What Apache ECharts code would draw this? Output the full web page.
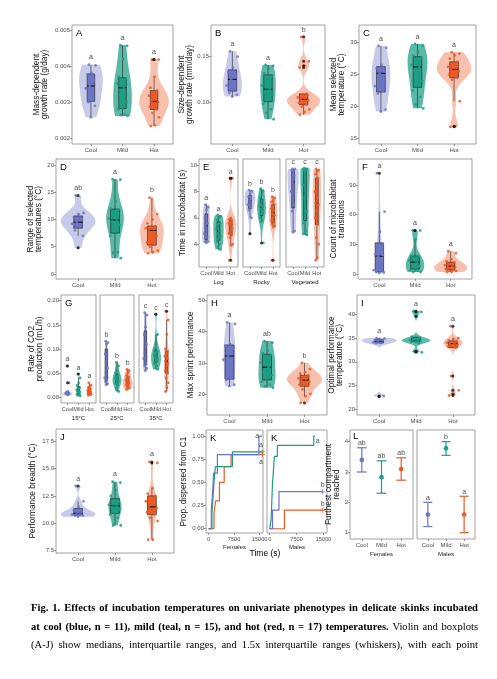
<!DOCTYPE html>
<html><head><meta charset="utf-8">
<script src="https://cdn.jsdelivr.net/npm/echarts@6/dist/echarts.min.js"></script>
<style>html,body{margin:0;padding:0;background:#fff}#c{width:497px;height:679px}</style>
</head><body><div id="c"></div>
<script>
// ---------- categories & data ----------
const CATS = ['Cool', 'Mild', 'Hot'];
// A: mass-dependent growth rate (g/day)
const aCool = [0.00404,0.00402,0.00381,0.00376,0.00362,0.00345,0.00338,0.00304,0.00300,0.00290,0.00258];
const aMild = [0.00458,0.00456,0.00420,0.00370,0.00366,0.00362,0.00352,0.00340,0.00320,0.00300,0.00285,0.00280,0.00266,0.00264,0.00262];
const aHot  = [0.00418,0.00418,0.00370,0.00340,0.00332,0.00325,0.00318,0.00310,0.00302,0.00300,0.00295,0.00288,0.00280,0.00270,0.00258,0.00236,0.00234];
// B: size-dependent growth rate (mm/day)
const bCool = [0.156,0.150,0.138,0.133,0.128,0.125,0.118,0.114,0.110,0.108,0.106];
const bMild = [0.141,0.140,0.137,0.132,0.128,0.124,0.118,0.114,0.112,0.108,0.103,0.098,0.092,0.088,0.081];
const bHot  = [0.172,0.145,0.140,0.138,0.109,0.107,0.105,0.104,0.103,0.102,0.101,0.099,0.097,0.095,0.092,0.089,0.086];
// C: mean selected temperature
const cCool = [29.5,29.2,26.5,26.0,25.5,25.2,23.2,22.5,22.0,19.5,19.2];
const cMild = [29.8,29.5,28.5,28.0,27.6,27.0,26.5,26.2,25.5,24.0,23.5,22.5,21.5,20.3,19.7];
const cHot  = [28.5,28.3,28.0,27.5,27.0,26.5,26.2,26.0,25.8,25.5,25.3,25.0,24.5,24.2,20.8,16.9,16.8];
// D: range of selected temperatures
const dCool = [14.4,11.2,11.0,10.3,10.0,9.5,9.2,8.8,8.0,7.0,4.8];
const dMild = [17.4,17.3,13.3,12.0,11.8,11.0,10.2,9.9,9.7,9.0,8.0,7.0,4.0,3.9,2.9];
const dHot  = [14.0,11.0,10.0,9.3,8.8,8.5,8.4,8.2,8.0,7.0,6.5,5.8,5.3,5.0,4.3,4.0,3.8];
// E: time in microhabitat (s), facets Log / Rocky / Vegetated
const eLogCool = [7.0,6.8,6.6,6.0,5.6,5.4,4.8,4.5,4.2,4.2,4.1];
const eLogMild = [6.2,6.1,6.0,5.8,5.6,5.5,5.2,5.0,4.8,4.6,4.4,4.2,4.0,3.8,3.6];
const eLogHot  = [9.0,9.0,6.0,5.9,5.85,5.7,5.6,5.5,5.5,5.2,5.0,4.8,4.7,4.5,4.0,3.9,2.8];
const eRockyCool = [8.1,8.0,7.8,7.6,7.5,7.3,7.0,6.8,6.6,6.0,4.8];
const eRockyMild = [8.2,8.0,7.8,7.5,7.3,7.0,6.9,6.8,6.6,6.5,6.3,6.0,5.8,5.7,4.1];
const eRockyHot  = [7.6,7.5,7.3,7.2,7.0,6.8,6.7,6.5,6.4,6.2,6.0,5.8,5.6,5.5,5.4,5.3,2.8];
const eVegCool = [9.7,9.7,9.6,9.6,9.2,8.7,8.0,7.0,6.5,5.0,4.9];
const eVegMild = [9.75,9.7,9.7,9.65,9.6,9.5,8.5,7.9,7.5,6.5,6.0,5.6,5.0,4.8,4.7];
const eVegHot  = [9.7,9.6,9.5,9.3,9.0,8.5,8.0,7.5,7.1,7.0,6.5,6.0,5.5,4.5,4.0,3.0,2.8];
// F: count of microhabitat transitions
const fCool = [102,63,43,20,19,18,4,3,2,1.5,1];
const fMild = [44,44,35,18.5,18,16,14,12,10,8,6,4,3,2,2];
const fHot  = [23,21,15,13,12,10,9,8,8,7,6,5,4,3,3,2,2];
// G: rate of CO2 production (mL/h), facets 15/25/35 °C
const g15Cool = [0.065,0.030,0.012,0.010,0.009,0.008,0.008,0.007,0.007,0.006,0.005];
const g15Mild = [0.048,0.040,0.030,0.025,0.020,0.018,0.015,0.013,0.012,0.010,0.008,0.006,0.005,0.004,0.003];
const g15Hot  = [0.030,0.025,0.022,0.020,0.018,0.016,0.014,0.012,0.011,0.010,0.009,0.008,0.008,0.007,0.006,0.005,0.004];
const g25Cool = [0.116,0.113,0.110,0.090,0.060,0.042,0.040,0.036,0.032,0.028,0.026];
const g25Mild = [0.072,0.065,0.055,0.050,0.045,0.042,0.040,0.038,0.036,0.034,0.030,0.028,0.025,0.020,0.012];
const g25Hot  = [0.058,0.055,0.050,0.045,0.042,0.040,0.036,0.034,0.032,0.030,0.028,0.026,0.024,0.022,0.020,0.018,0.016];
const g35Cool = [0.175,0.170,0.145,0.130,0.110,0.093,0.080,0.070,0.065,0.060,0.055];
const g35Mild = [0.172,0.130,0.110,0.100,0.095,0.092,0.088,0.085,0.082,0.078,0.075,0.070,0.065,0.060,0.058];
const g35Hot  = [0.178,0.160,0.130,0.100,0.095,0.090,0.085,0.080,0.075,0.070,0.065,0.055,0.050,0.040,0.030,0.020,0.012];
// H: max sprint performance
const hCool = [43,42.5,36,35.5,34.5,32.2,31,25,24.5,23,22.5];
const hMild = [37,36.5,34,33,32.5,31,30,28.6,27,26,25,24,23,22.5,22];
const hHot  = [30,28,27,26.5,26,25.5,25,24.8,24.5,24,23.5,23,22.5,21.5,20,19.3,17.1];
// I: optimal performance temperature
const iCool = [35.0,34.9,34.8,34.6,34.5,34.3,34.1,34.0,33.9,22.8,22.7];
const iMild = [40.7,40.5,39.6,35.3,35.0,34.8,34.6,34.5,34.5,34.4,34.3,34.2,33.9,32.2,32.0];
const iHot  = [37.5,35.0,34.8,34.5,34.4,34.2,34.0,33.9,33.8,33.6,33.5,33.2,33.0,27.0,24.0,23.2,22.9];
// J: performance breadth
const jCool = [13.4,12.0,11.5,11.2,11.0,10.9,10.8,10.8,10.7,10.7,10.6];
const jMild = [13.8,13.7,13.0,12.5,12.0,11.8,11.7,11.6,11.5,11.3,11.0,10.8,10.5,9.8,9.8];
const jHot  = [15.6,15.5,13.2,12.7,12.5,12.3,12.0,11.8,11.5,11.4,11.2,11.0,10.8,10.5,10.2,8.5,8.5];
// K: proportion dispersed from C1 (step curves: event times, proportions, end of follow-up)
const kFemCoolT = [0, 800, 1200, 1500, 2600, 14800], kFemCoolP = [0, 0.2, 0.4, 0.6, 0.8, 1.0];
const kFemMildT = [0, 1000, 1300, 1600, 2000, 7000], kFemMildP = [0, 0.17, 0.33, 0.5, 0.67, 0.83];
const kFemHotT  = [0, 1600, 2100, 3200, 4600, 6600], kFemHotP  = [0, 0.17, 0.3, 0.5, 0.67, 0.8];
const kFemEnd = [15800, 15800, 15800];
const kMaleCoolT = [0, 800, 2600], kMaleCoolP = [0, 0.2, 0.4];
const kMaleMildT = [0, 400, 600, 800, 1000, 1300, 2150, 12300], kMaleMildP = [0, 0.1, 0.3, 0.5, 0.6, 0.78, 0.9, 1.0];
const kMaleHotT  = [0, 4100], kMaleHotP = [0, 0.2];
const kMaleEnd = [14800, 12600, 14800];
const kFemSig = ['a', 'a', 'a'], kMaleSig = ['b', 'a', 'b'];
// L: furthest compartment reached (mean, lower, upper)
const lFemMean = [3.4, 2.83, 3.1], lFemLo = [3.0, 2.3, 2.73], lFemHi = [3.8, 3.37, 3.47];
const lMaleMean = [1.6, 3.78, 1.6], lMaleLo = [1.2, 3.55, 1.0], lMaleHi = [2.0, 4.0, 2.2];
const lFemSig = ['ab', 'ab', 'ab'], lMaleSig = ['a', 'b', 'a'];

// ---------- style ----------
const COLORS = ['#6C74C4', '#1B9E84', '#EB5A27'];
const VIOLIN_ALPHA = [0.38, 0.72, 0.38];
const FONT = '"Liberation Sans", Arial, sans-serif';
const SERIF = '"Liberation Serif", "Times New Roman", serif';
const TICK_FS = 6, NAME_FS = 8.3;
function rgba(hex, a) { const n = parseInt(hex.slice(1), 16); return `rgba(${n >> 16},${(n >> 8) & 255},${n & 255},${a})`; }

const grids = [], xAxes = [], yAxes = [], series = [], graphics = [];

function quant(s, p) { const h = (s.length - 1) * p, lo = Math.floor(h), hi = Math.ceil(h); return s[lo] + (s[hi] - s[lo]) * (h - lo); }
function stats(a) {
  const s = [...a].sort((x, y) => x - y);
  const q1 = quant(s, .25), med = quant(s, .5), q3 = quant(s, .75), iqr = q3 - q1;
  const lf = q1 - 1.5 * iqr, hf = q3 + 1.5 * iqr;
  const inn = s.filter(v => v >= lf && v <= hf);
  return { s, q1, med, q3, wlo: inn[0], whi: inn[inn.length - 1], out: s.filter(v => v < lf || v > hf) };
}
function bw(s) {
  const n = s.length, m = s.reduce((a, b) => a + b) / n;
  const sd = Math.sqrt(s.reduce((a, b) => a + (b - m) ** 2, 0) / (n - 1));
  const iqr = quant(s, .75) - quant(s, .25);
  let lo = Math.min(sd, iqr / 1.34); if (!(lo > 0)) lo = sd || Math.abs(s[0]) || 1;
  return 1.25 * 0.9 * lo * Math.pow(n, -0.2);
}
function density(s) {
  const b = bw(s), n = s.length, N = 60, out = [], lo = s[0], hi = s[n - 1];
  for (let i = 0; i < N; i++) {
    const y = lo + (hi - lo) * i / (N - 1); let d = 0;
    for (const v of s) { const z = (y - v) / b; d += Math.exp(-0.5 * z * z); }
    out.push([y, d / (n * b * Math.sqrt(2 * Math.PI))]);
  }
  return out;
}
function jit(k) { return (((k * 0.618034 + 0.31) % 1) - 0.5) * 0.34; }

function addGrid(b) {
  grids.push({ left: b[0], top: b[1], width: b[2], height: b[3], show: true, borderColor: '#8c8c8c', borderWidth: 0.8, backgroundColor: '#fff', containLabel: false, outerBoundsMode: 'none' });
  return grids.length - 1;
}
function addX(gi, o) {
  xAxes.push({ type: 'value', gridIndex: gi, min: o.min, max: o.max, position: 'bottom',
    axisLine: { show: false, onZero: false }, splitLine: { show: false },
    axisTick: { show: true, customValues: o.ticks, length: 2, lineStyle: { color: '#555', width: 0.6 } },
    axisLabel: { show: !o.hideLabels, customValues: o.ticks, formatter: o.fmt, fontSize: o.fs || TICK_FS, color: '#4d4d4d', margin: 3, fontFamily: FONT,
      hideOverlap: false, showMinLabel: true, showMaxLabel: true },
    name: o.name || '', nameLocation: 'middle', nameGap: o.nameGap || 12,
    nameTextStyle: { fontSize: 6, color: '#1a1a1a', fontFamily: FONT } });
  return xAxes.length - 1;
}
function addY(gi, o) {
  const show = o.show !== false;
  yAxes.push({ type: 'value', gridIndex: gi, min: o.min, max: o.max, position: 'left',
    axisLine: { show: false, onZero: false }, splitLine: { show: false },
    axisTick: { show: show, customValues: o.ticks, length: 2, lineStyle: { color: '#555', width: 0.6 } },
    axisLabel: { show: show, customValues: o.ticks, formatter: o.fmt, fontSize: TICK_FS, color: '#4d4d4d', margin: 2, fontFamily: FONT,
      hideOverlap: false, showMinLabel: true, showMaxLabel: true },
    name: show ? (o.name || '') : '', nameLocation: 'middle', nameGap: o.nameGap || 14,
    nameTextStyle: { fontSize: NAME_FS, color: '#111', lineHeight: 8, fontFamily: FONT } });
  return yAxes.length - 1;
}
function sigText(x, y, t, size) {
  return { type: 'text', x: x, y: y, style: { text: t, fill: '#4d4d4d', font: (size || 7) + 'px ' + FONT, align: 'center', verticalAlign: 'middle', textAlign: 'center', textVerticalAlign: 'middle' } };
}
function panelLetter(x, y, t) {
  graphics.push({ type: 'text', x: x, y: y, style: { text: t, fill: '#000', font: '9.5px ' + FONT, align: 'left', verticalAlign: 'middle', textAlign: 'left', textVerticalAlign: 'middle' } });
}

function violinPanel(p) {
  const gi = addGrid(p.box);
  const xi = addX(gi, { min: -0.6, max: 2.6, ticks: [0, 1, 2], fmt: v => CATS[v], name: p.xname, nameGap: p.xnameGap, hideLabels: !!p.xfs });
  const yi = addY(gi, { min: p.ymin, max: p.ymax, ticks: p.yticks, fmt: p.fmt, name: p.yname, nameGap: p.ynameGap, show: p.showY });
  const st = p.groups.map(stats);
  const dens = st.map(s => density(s.s));
  const dmax = Math.max(...dens.flat().map(d => d[1]));
  series.push({ type: 'custom', xAxisIndex: xi, yAxisIndex: yi, silent: true, z: 1, data: [[0], [1], [2]],
    renderItem: (params, api) => {
      const i = params.dataIndex, R = [], L = [];
      for (const [y, v] of dens[i]) { const w = v / dmax * 0.47; R.push(api.coord([i + w, y])); L.push(api.coord([i - w, y])); }
      return { type: 'polygon', shape: { points: R.concat(L.reverse()) }, style: { fill: rgba(COLORS[i], VIOLIN_ALPHA[i]), stroke: null } };
    } });
  series.push({ type: 'custom', xAxisIndex: xi, yAxisIndex: yi, silent: true, z: 3,
    data: st.map((s, i) => [i, s.wlo, s.q1, s.med, s.q3, s.whi]),
    renderItem: (params, api) => {
      const i = api.value(0), hw = 0.12, c = (x, y) => api.coord([x, y]);
      const lo = c(i, api.value(1)), q1 = c(i, api.value(2)), md = c(i, api.value(3)), q3 = c(i, api.value(4)), hi = c(i, api.value(5));
      const l = c(i - hw, api.value(3))[0], r = c(i + hw, api.value(3))[0];
      const ls = { stroke: '#222', lineWidth: 0.6 };
      return { type: 'group', children: [
        { type: 'line', shape: { x1: lo[0], y1: lo[1], x2: q1[0], y2: q1[1] }, style: ls },
        { type: 'line', shape: { x1: q3[0], y1: q3[1], x2: hi[0], y2: hi[1] }, style: ls },
        { type: 'rect', shape: { x: l, y: q3[1], width: r - l, height: q1[1] - q3[1] }, style: { fill: COLORS[i], stroke: '#222', lineWidth: 0.6 } },
        { type: 'line', shape: { x1: l, y1: md[1], x2: r, y2: md[1] }, style: { stroke: '#111', lineWidth: 1.1 } }
      ] };
    } });
  const pts = [];
  p.groups.forEach((g, i) => g.forEach((v, k) => pts.push({ value: [i + jit(k), v], itemStyle: { color: COLORS[i] } })));
  series.push({ type: 'scatter', xAxisIndex: xi, yAxisIndex: yi, silent: true, z: 4, symbolSize: 2.8, itemStyle: { opacity: 0.85 }, data: pts });
  const outs = [];
  st.forEach((s, i) => s.out.forEach(v => outs.push([i, v])));
  series.push({ type: 'scatter', xAxisIndex: xi, yAxisIndex: yi, silent: true, z: 5, symbolSize: 3, itemStyle: { color: '#111' }, data: outs });
  const off = 0.06 * (p.ymax - p.ymin);
  series.push({ type: 'custom', xAxisIndex: xi, yAxisIndex: yi, silent: true, z: 6,
    data: st.map((s, i) => [i, s.s[s.s.length - 1] + off]),
    renderItem: (params, api) => { const pt = api.coord([api.value(0), api.value(1)]); return sigText(pt[0], pt[1], p.sig[params.dataIndex]); } });
  if (p.xfs) {
    // narrow facets: category labels drawn directly so none are dropped
    series.push({ type: 'custom', xAxisIndex: xi, yAxisIndex: yi, silent: true, z: 6, clip: false,
      data: CATS.map((c, i) => [i, p.ymin]),
      renderItem: (params, api) => {
        const pt = api.coord([api.value(0), api.value(1)]);
        return { type: 'text', x: pt[0], y: pt[1] + 3, style: { text: CATS[params.dataIndex], fill: '#4d4d4d', font: p.xfs + 'px ' + FONT, align: 'center', verticalAlign: 'top', textAlign: 'center', textVerticalAlign: 'top' } };
      } });
  }
  if (p.letter) panelLetter(p.box[0] + 4, p.box[1] + 8, p.letter);
}

const f0 = v => String(Math.round(v));
// ---------- panels ----------
violinPanel({ box: [72, 25, 101, 119], groups: [aCool, aMild, aHot], sig: ['a', 'a', 'a'], ymin: 0.001842, ymax: 0.005139,
  yticks: [0.002, 0.003, 0.004, 0.005], fmt: v => v.toFixed(3), yname: 'Mass-dependent\ngrowth rate (g/day)', ynameGap: 23, letter: 'A' });
violinPanel({ box: [211, 25, 114, 119], groups: [bCool, bMild, bHot], sig: ['a', 'a', 'b'], ymin: 0.0537, ymax: 0.185,
  yticks: [0.10, 0.15], fmt: v => v.toFixed(2), yname: 'Size-dependent\ngrowth rate (mm/day)', ynameGap: 16, letter: 'B' });
violinPanel({ box: [359, 25, 117, 119], groups: [cCool, cMild, cHot], sig: ['a', 'a', 'a'], ymin: 14.1, ymax: 32.78,
  yticks: [15, 20, 25, 30], fmt: f0, yname: 'Mean selected\ntemperature (°C)', ynameGap: 13, letter: 'C' });
violinPanel({ box: [56, 159, 118, 120], groups: [dCool, dMild, dHot], sig: ['ab', 'a', 'b'], ymin: -0.92, ymax: 21.1,
  yticks: [0, 5, 10, 15, 20], fmt: f0, yname: 'Range of selected\ntemperatures (°C)', ynameGap: 13, letter: 'D' });
violinPanel({ box: [199, 159, 39, 108], groups: [eLogCool, eLogMild, eLogHot], sig: ['a', 'a', 'a'], ymin: 2.28, ymax: 10.45, xfs: 5.8,
  yticks: [4, 6, 8, 10], fmt: f0, yname: 'Time in microhabitat (s)', ynameGap: 11, xname: 'Log', xnameGap: 12, letter: 'E' });
violinPanel({ box: [243, 159, 37, 108], groups: [eRockyCool, eRockyMild, eRockyHot], sig: ['b', 'b', 'b'], ymin: 2.28, ymax: 10.45, xfs: 5.8,
  yticks: [4, 6, 8, 10], fmt: f0, showY: false, xname: 'Rocky', xnameGap: 12 });
violinPanel({ box: [286, 159, 38, 108], groups: [eVegCool, eVegMild, eVegHot], sig: ['c', 'c', 'c'], ymin: 2.28, ymax: 10.45, xfs: 5.8,
  yticks: [4, 6, 8, 10], fmt: f0, showY: false, xname: 'Vegetated', xnameGap: 12 });
violinPanel({ box: [358, 159, 114, 120], groups: [fCool, fMild, fHot], sig: ['a', 'a', 'a'], ymin: -5.06, ymax: 116.3,
  yticks: [0, 30, 60, 90], fmt: f0, yname: 'Count of microhabitat\ntransitions', ynameGap: 11, letter: 'F' });
violinPanel({ box: [61, 295, 35, 108], groups: [g15Cool, g15Mild, g15Hot], sig: ['a', 'a', 'a'], ymin: -0.0118, ymax: 0.2118, xfs: 5.6,
  yticks: [0, 0.05, 0.10, 0.15, 0.20], fmt: v => v.toFixed(2), yname: 'Rate of CO2\nproduction (mL/h)', ynameGap: 17, xname: '15°C', xnameGap: 12, letter: 'G' });
violinPanel({ box: [100, 295, 34, 108], groups: [g25Cool, g25Mild, g25Hot], sig: ['b', 'b', 'b'], ymin: -0.0118, ymax: 0.2118, xfs: 5.6,
  yticks: [0, 0.05, 0.10, 0.15, 0.20], fmt: v => v.toFixed(2), showY: false, xname: '25°C', xnameGap: 12 });
violinPanel({ box: [139, 295, 34, 108], groups: [g35Cool, g35Mild, g35Hot], sig: ['c', 'c', 'c'], ymin: -0.0118, ymax: 0.2118, xfs: 5.6,
  yticks: [0, 0.05, 0.10, 0.15, 0.20], fmt: v => v.toFixed(2), showY: false, xname: '35°C', xnameGap: 12 });
violinPanel({ box: [207, 295, 120, 120], groups: [hCool, hMild, hHot], sig: ['a', 'ab', 'b'], ymin: 13.25, ymax: 51.8,
  yticks: [20, 30, 40, 50], fmt: f0, yname: 'Max sprint performance', ynameGap: 11, letter: 'H' });
violinPanel({ box: [357, 295, 118, 120], groups: [iCool, iMild, iHot], sig: ['a', 'a', 'a'], ymin: 18.8, ymax: 44.06,
  yticks: [20, 25, 30, 35, 40], fmt: f0, yname: 'Optimal performance\ntemperature (°C)', ynameGap: 13, letter: 'I' });
violinPanel({ box: [56, 429, 118, 124], groups: [jCool, jMild, jHot], sig: ['a', 'a', 'a'], ymin: 7.29, ymax: 18.6,
  yticks: [7.5, 10, 12.5, 15, 17.5], fmt: v => v.toFixed(1), yname: 'Performance breadth (°C)', ynameGap: 19, letter: 'J' });

// ---------- K: step curves ----------
function kmPanel(box, Ts, Ps, ends, sig, sigPos, xname, showY) {
  const gi = addGrid(box);
  const xi = addX(gi, { min: -750, max: 16000, ticks: [0, 7500, 15000], fmt: v => String(v), name: xname, nameGap: 11, fs: 5.6 });
  const yi = addY(gi, { min: -0.046, max: 1.065, ticks: [0, 0.25, 0.5, 0.75, 1], fmt: v => v.toFixed(2), name: 'Prop. dispersed from C1', nameGap: 18, show: showY });
  Ts.forEach((T, i) => {
    const d = T.map((t, k) => [t, Ps[i][k]]);
    d.push([ends[i], Ps[i][Ps[i].length - 1]]);
    series.push({ type: 'line', xAxisIndex: xi, yAxisIndex: yi, step: 'end', symbol: 'none', silent: true, z: 3 - i * 0.1,
      lineStyle: { color: COLORS[i], width: 1.2 }, data: d });
    if (Ps[i][Ps[i].length - 1] < 1) {
      series.push({ type: 'scatter', xAxisIndex: xi, yAxisIndex: yi, silent: true, z: 4,
        symbol: 'path://M4,0H6V4H10V6H6V10H4V6H0V4H4Z', symbolSize: 5, itemStyle: { color: COLORS[i] },
        data: [[ends[i], Ps[i][Ps[i].length - 1]]] });
    }
  });
  series.push({ type: 'custom', xAxisIndex: xi, yAxisIndex: yi, silent: true, z: 6,
    data: sigPos, renderItem: (params, api) => { const pt = api.coord([api.value(0), api.value(1)]); return sigText(pt[0], pt[1], sig[params.dataIndex]); } });
}
kmPanel([206, 430, 57, 103], [kFemCoolT, kFemMildT, kFemHotT], [kFemCoolP, kFemMildP, kFemHotP], kFemEnd, kFemSig,
  [[14300, 1.0], [15400, 0.9], [15400, 0.72]], 'Females', true);
kmPanel([267, 430, 60, 103], [kMaleCoolT, kMaleMildT, kMaleHotT], [kMaleCoolP, kMaleMildP, kMaleHotP], kMaleEnd, kMaleSig,
  [[14800, 0.47], [13400, 0.95], [14800, 0.27]], 'Males', false);
panelLetter(210, 438, 'K');
panelLetter(271, 438, 'K');

// ---------- L: means with error bars ----------
function errPanel(box, mean, lo, hi, sig, xname, showY, letter) {
  const gi = addGrid(box);
  const xi = addX(gi, { min: -0.6, max: 2.6, ticks: [0, 1, 2], fmt: v => CATS[v], name: xname, nameGap: 12 });
  const yi = addY(gi, { min: 0.79, max: 4.386, ticks: [1, 2, 3, 4], fmt: f0, name: 'Furthest compartment\nreached', nameGap: 6, show: showY });
  series.push({ type: 'custom', xAxisIndex: xi, yAxisIndex: yi, silent: true, z: 3,
    data: mean.map((m, i) => [i, m, lo[i], hi[i]]),
    renderItem: (params, api) => {
      const i = api.value(0), c = (x, y) => api.coord([x, y]);
      const pm = c(i, api.value(1)), pl = c(i, api.value(2)), ph = c(i, api.value(3));
      const l = c(i - 0.25, api.value(1))[0], r = c(i + 0.25, api.value(1))[0];
      const ls = { stroke: COLORS[i], lineWidth: 1.2 };
      const ty = c(i, api.value(3) + 0.14)[1];
      return { type: 'group', children: [
        { type: 'line', shape: { x1: pl[0], y1: pl[1], x2: ph[0], y2: ph[1] }, style: ls },
        { type: 'line', shape: { x1: l, y1: pl[1], x2: r, y2: pl[1] }, style: ls },
        { type: 'line', shape: { x1: l, y1: ph[1], x2: r, y2: ph[1] }, style: ls },
        { type: 'circle', shape: { cx: pm[0], cy: pm[1], r: 2.3 }, style: { fill: COLORS[i] } },
        sigText(pm[0], ty, sig[i])
      ] };
    } });
  if (letter) panelLetter(box[0] + 3, box[1] + 6, letter);
}
errPanel([350, 430, 63, 109], lFemMean, lFemLo, lFemHi, lFemSig, 'Females', true, 'L');
errPanel([417, 430, 58, 109], lMaleMean, lMaleLo, lMaleHi, lMaleSig, 'Males', false, null);

graphics.push({ type: 'text', x: 265, y: 554, style: { text: 'Time (s)', fill: '#000', font: '8.5px ' + FONT, align: 'center', verticalAlign: 'middle', textAlign: 'center', textVerticalAlign: 'middle' } });

// ---------- caption (justified lines) ----------
const CAPTION = [
  [['Fig. 1. Effects of incubation temperatures on univariate phenotypes in delicate skinks incubated', true]],
  [['at cool (blue, n = 11), mild (teal, n = 15), and hot (red, n = 17) temperatures.', true], ['Violin and boxplots', false]],
  [['(A-J) show medians, interquartile ranges, and 1.5x interquartile ranges (whiskers), with each point', false]]
];
const CAP_Y = [608, 627, 645.5], CAP_X0 = 31, CAP_X1 = 478, CAP_SIZE = 10.6;
const mctx = document.createElement('canvas').getContext('2d');
CAPTION.forEach((parts, li) => {
  const words = [];
  parts.forEach(([t, b]) => t.split(' ').forEach(w => words.push({ w, b })));
  let total = 0;
  words.forEach(o => { o.font = (o.b ? 'bold ' : '') + CAP_SIZE + 'px ' + SERIF; mctx.font = o.font; o.width = mctx.measureText(o.w).width; total += o.width; });
  const gap = (CAP_X1 - CAP_X0 - total) / (words.length - 1);
  let x = CAP_X0;
  words.forEach(o => {
    graphics.push({ type: 'text', x: x, y: CAP_Y[li], style: { text: o.w, fill: '#000', font: o.font, align: 'left', verticalAlign: 'middle', textAlign: 'left', textVerticalAlign: 'middle' } });
    x += o.width + gap;
  });
});

const chart = echarts.init(document.getElementById('c'), null, { renderer: 'canvas' });
chart.setOption({ animation: false, backgroundColor: '#fff', grid: grids, xAxis: xAxes, yAxis: yAxes, series: series, graphic: { elements: graphics } });
</script></body></html>
